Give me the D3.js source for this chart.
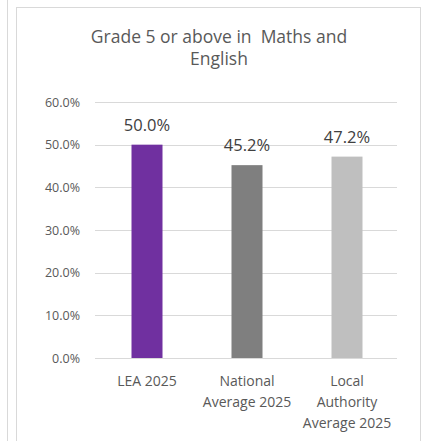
<html>
<head>
  <style>
    body { margin: 0; background: white; font-family: "Open Sans", "Noto Sans", sans-serif; }
    text { white-space: pre; }
  </style>
  <script src="https://cdn.jsdelivr.net/npm/d3@7"></script>
</head>
<body>
  <svg id="main"></svg>
  <script>
    const categories = [["LEA 2025"], ["National", "Average 2025"], ["Local", "Authority", "Average 2025"]]
    const values = [50.0, 45.2, 47.2]
    const colors = ["#7030A0", "#7F7F7F", "#BFBFBF"]
    const yTicks = [0, 10, 20, 30, 40, 50, 60]
    const titleLines = ["Grade 5 or above in  Maths and", "English"]

    const width = 427, height = 441
    const svg = d3.select("#main").attr("width", width).attr("height", height)

    // partial neighbour chart border + own chart border
    svg.append("line").attr("x1", 7.5).attr("x2", 7.5).attr("y1", 0).attr("y2", height)
      .attr("stroke", "#d9d9d9")
    svg.append("rect").attr("x", 16.5).attr("y", 7.5).attr("width", 404).attr("height", 450)
      .attr("fill", "none").attr("stroke", "#d9d9d9")

    const margin = {left: 97, right: 397, top: 102, bottom: 358}
    const x = d3.scaleBand().domain(d3.range(values.length)).range([margin.left, margin.right]).paddingInner(0.69).paddingOuter(0.345)
    const y = d3.scaleLinear().domain([0, 60]).range([margin.bottom, margin.top])

    svg.append("g").selectAll("line").data(yTicks).join("line")
      .attr("x1", 95).attr("x2", 397)
      .attr("y1", d => Math.round(y(d)) + 0.5).attr("y2", d => Math.round(y(d)) + 0.5)
      .attr("stroke", "#d9d9d9").attr("stroke-width", 1.2)

    svg.append("g").selectAll("text").data(yTicks).join("text")
      .attr("x", 80).attr("y", d => y(d)).attr("dy", "0.36em")
      .attr("text-anchor", "end").attr("font-size", 12.5).attr("fill", "#595959")
      .text(d => d.toFixed(1) + "%")

    svg.append("g").selectAll("rect").data(values).join("rect")
      .attr("x", (d, i) => x(i)).attr("width", x.bandwidth())
      .attr("y", d => y(d)).attr("height", d => y(0) - y(d))
      .attr("fill", (d, i) => colors[i])

    svg.append("g").selectAll("text").data(values).join("text")
      .attr("x", (d, i) => x(i) + x.bandwidth() / 2).attr("y", d => y(d) - 14)
      .attr("text-anchor", "middle").attr("font-size", 16.5).attr("fill", "#404040")
      .text(d => d.toFixed(1) + "%")

    const cat = svg.append("g").selectAll("text").data(categories).join("text")
      .attr("text-anchor", "middle").attr("font-size", 14).attr("fill", "#595959")
    cat.selectAll("tspan").data((d, i) => d.map(s => ({s, i}))).join("tspan")
      .attr("x", d => x(d.i) + x.bandwidth() / 2)
      .attr("y", (d, j) => 386 + j * 21)
      .text(d => d.s)

    svg.append("g").selectAll("text").data(titleLines).join("text")
      .attr("x", 219).attr("y", (d, i) => 43 + i * 22)
      .attr("text-anchor", "middle").attr("font-size", 17.5).attr("fill", "#595959")
      .text(d => d)
  </script>
</body>
</html>
